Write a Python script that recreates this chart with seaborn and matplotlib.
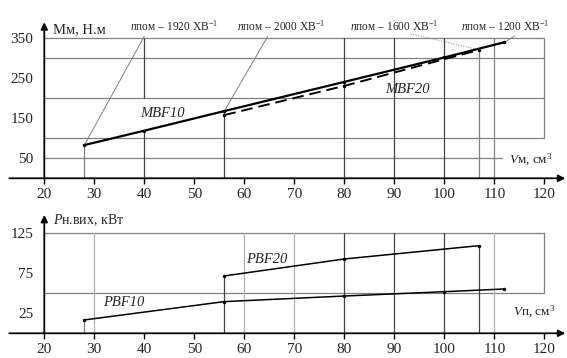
import numpy as np
import pandas as pd
import matplotlib
matplotlib.use("Agg")
import matplotlib.pyplot as plt
import seaborn as sns

# Datos
v_mbf10 = [28, 40, 56, 80, 100, 112]
m_mbf10 = [83, 119, 168, 241, 302, 340]
v_mbf20 = [56, 80, 107]
m_mbf20 = [158, 231, 321]

v_pbf10 = [28, 56, 80, 100, 112]
p_pbf10 = [16.7, 39.6, 46.6, 52, 55.4]
v_pbf20 = [56, 80, 107]
p_pbf20 = [71.7, 92.9, 109.6]

x_ticks = [20, 30, 40, 50, 60, 70, 80, 90, 100, 110, 120]
m_ticks = [50, 150, 250, 350]
p_ticks = [25, 75, 125]

n_labels = ["1920", "2000", "1600", "1200"]

sns.set_theme(style="white")
plt.rcParams['font.family'] = ['Liberation Serif', 'DejaVu Serif']
plt.rcParams['mathtext.fontset'] = 'custom'
plt.rcParams['mathtext.rm'] = 'Liberation Serif'
plt.rcParams['mathtext.it'] = 'Liberation Serif:italic'

fig = plt.figure(figsize=(5.67, 3.58), dpi=100)
ax1 = fig.add_axes([0.0164, 0.502, 0.9806, 0.4358])
ax2 = fig.add_axes([0.0164, 0.069, 0.9806, 0.3307])

G_DARK = "#444444"
G_MID = "#808080"
G_LIGHT = "#b0b0b0"


def ejes(ax, ytop, yticks):
    ax.set_xlim(13, 124.2)
    ax.set_ylim(0, ytop)
    for s in ax.spines.values():
        s.set_color("none")
    ax.spines["left"].set_position(("data", 20))
    ax.set_xticks(x_ticks)
    ax.set_xticklabels([str(t) for t in x_ticks])
    ax.set_yticks(yticks)
    ax.set_yticklabels([str(t) for t in yticks])
    ax.tick_params(axis="x", length=4, width=1, color="black", pad=3,
                   labelsize=11, direction="out", bottom=True)
    ax.tick_params(axis="y", length=0, pad=8, labelsize=11, left=True)
    ax.set_xlabel("")
    ax.set_ylabel("")
    ax.grid(False)
    # ejes con flecha
    ax.annotate("", xy=(124.2, 0), xytext=(13, 0), xycoords="data",
                arrowprops=dict(arrowstyle="-|>", color="black", lw=1.3,
                                mutation_scale=10, shrinkA=0, shrinkB=0),
                annotation_clip=False)
    ax.annotate("", xy=(20, ytop), xytext=(20, 0), xycoords="data",
                arrowprops=dict(arrowstyle="-|>", color="black", lw=1.3,
                                mutation_scale=10, shrinkA=0, shrinkB=0),
                annotation_clip=False)


ejes(ax1, 390, m_ticks)
ejes(ax2, 148, p_ticks)

# ---- Panel superior: par ----
for y in [350, 300, 200, 100]:
    ax1.plot([20, 120], [y, y], color=G_MID, lw=0.9, zorder=1)
ax1.plot([20, 111.5], [50, 50], color=G_MID, lw=0.9, zorder=1)
ax1.plot([120, 120], [100, 350], color=G_MID, lw=0.9, zorder=1)
for x in [80, 90, 100]:
    ax1.plot([x, x], [0, 350], color=G_DARK, lw=0.9, zorder=1)
ax1.plot([40, 40], [200, 350], color=G_DARK, lw=0.9, zorder=1)
ax1.plot([40, 40], [0, 119], color=G_DARK, lw=0.9, zorder=1)
ax1.plot([110, 110], [0, 350], color=G_MID, lw=0.9, zorder=1)
ax1.plot([28, 28], [0, 83], color=G_MID, lw=0.9, zorder=1)
ax1.plot([56, 56], [0, 168], color=G_DARK, lw=0.9, zorder=1)
ax1.plot([107, 107], [0, 321], color=G_MID, lw=0.9, zorder=1)

df_m10 = pd.DataFrame({"V": v_mbf10, "M": m_mbf10})
df_m20 = pd.DataFrame({"V": v_mbf20, "M": m_mbf20})
sns.lineplot(data=df_m10, x="V", y="M", ax=ax1, color="black", lw=1.6,
             marker="o", markersize=2.5, markeredgewidth=0, zorder=3)
sns.lineplot(data=df_m20, x="V", y="M", ax=ax1, color="black", lw=1.4,
             linestyle=(0, (6, 3)), marker="o", markersize=2.5,
             markeredgewidth=0, zorder=3)
ax1.set_xlabel("")
ax1.set_ylabel("")

# anotaciones de velocidad
ann = [
    (n_labels[0], 46, (28, 83), (40, 355), G_MID, "-"),
    (n_labels[1], 67.3, (56, 168), (64.7, 355), G_MID, "-"),
    (n_labels[2], 90, (107, 321), (93, 362), G_MID, ":"),
    (n_labels[3], 112.2, (112, 340), (114, 355), G_MID, "-"),
]
for lab, xc, p0, p1, col, ls in ann:
    ax1.text(xc, 362, r"$n$пом – " + lab + r" ХВ$^{\mathrm{-1}}$",
             ha="center", va="bottom", fontsize=8.3)
    ax1.plot([p0[0], p1[0]], [p0[1], p1[1]], color=col, lw=0.7, ls=ls, zorder=2)

ax1.text(21.8, 372, "Мм, Н.м", fontsize=10.5, ha="left", va="center")
ax1.text(43.6, 163, "MBF10", fontsize=10.5, style="italic", ha="center",
         va="center")
ax1.text(92.7, 222, "MBF20", fontsize=10.5, style="italic", ha="center",
         va="center")
ax1.text(113, 47, r"$V$м, см$^3$", fontsize=9.5, ha="left", va="center")

# ---- Panel inferior: potencia ----
for y in [125, 50]:
    ax2.plot([20, 120], [y, y], color=G_MID, lw=0.9, zorder=1)
ax2.plot([120, 120], [50, 125], color=G_MID, lw=0.9, zorder=1)
for x in [30, 60, 70, 110]:
    ax2.plot([x, x], [0, 125], color=G_LIGHT, lw=0.9, zorder=1)
for x in [80, 90, 100]:
    ax2.plot([x, x], [0, 125], color=G_DARK, lw=0.9, zorder=1)
ax2.plot([28, 28], [0, 16.7], color=G_MID, lw=0.9, zorder=1)
ax2.plot([56, 56], [0, 71.7], color=G_DARK, lw=0.9, zorder=1)
ax2.plot([107, 107], [0, 109.6], color=G_DARK, lw=0.9, zorder=1)

df_p10 = pd.DataFrame({"V": v_pbf10, "P": p_pbf10})
df_p20 = pd.DataFrame({"V": v_pbf20, "P": p_pbf20})
sns.lineplot(data=df_p10, x="V", y="P", ax=ax2, color="black", lw=1.1,
             marker="o", markersize=2.5, markeredgewidth=0, zorder=3)
sns.lineplot(data=df_p20, x="V", y="P", ax=ax2, color="black", lw=1.1,
             marker="o", markersize=2.5, markeredgewidth=0, zorder=3)
ax2.set_xlabel("")
ax2.set_ylabel("")

ax2.text(21.8, 141, r"$P$н.вих, кВт", fontsize=10, ha="left", va="center")
ax2.text(35.8, 39, "PBF10", fontsize=10.5, style="italic", ha="center",
         va="center")
ax2.text(64.5, 92, "PBF20", fontsize=10.5, style="italic", ha="center",
         va="center")
ax2.text(113.7, 27, r"$V$п, см$^3$", fontsize=9.5, ha="left", va="center")

fig.savefig("out.png", dpi=100)
